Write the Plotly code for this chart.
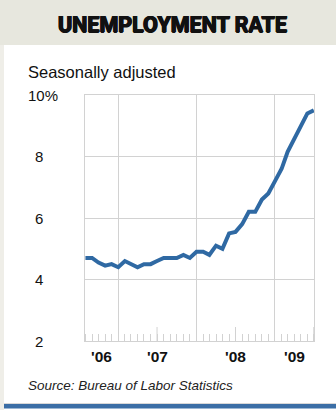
import plotly.graph_objects as go
import pandas as pd

# Monthly unemployment rate, seasonally adjusted (percent)
months = [
    "2006-08", "2006-09", "2006-10", "2006-11", "2006-12",
    "2007-01", "2007-02", "2007-03", "2007-04", "2007-05", "2007-06",
    "2007-07", "2007-08", "2007-09", "2007-10", "2007-11", "2007-12",
    "2008-01", "2008-02", "2008-03", "2008-04", "2008-05", "2008-06",
    "2008-07", "2008-08", "2008-09", "2008-10", "2008-11", "2008-12",
    "2009-01", "2009-02", "2009-03", "2009-04", "2009-05", "2009-06",
    "2009-07",
]
rate = [
    4.7, 4.7, 4.55, 4.45, 4.5,
    4.4, 4.6, 4.5, 4.4, 4.5, 4.5,
    4.6, 4.7, 4.7, 4.7, 4.8, 4.7,
    4.9, 4.9, 4.8, 5.1, 5.0, 5.5,
    5.55, 5.8, 6.2, 6.2, 6.6, 6.8,
    7.2, 7.6, 8.15, 8.55, 8.95, 9.4,
    9.5,
]

year_labels = ["'06", "'07", "'08", "'09"]
years = [2006, 2007, 2008, 2009]
y_ticks = [2, 4, 6, 8, 10]

x_range = ["2006-07-30", "2009-07-02"]

W, H = 336, 410
L, R, T, B = 85, 22, 95, 69
PW, PH = W - L - R, H - T - B

def px(xp):
    return (xp - L) / PW

def py(yp):
    return (H - B - yp) / PH

BLUE = "#2f69a3"
GRID = "#d2d2d2"
BAND = "#e7e7de"
INK = "#111111"

fig = go.Figure()
fig.add_trace(go.Scatter(
    x=[m + "-01" for m in months], y=rate, mode="lines",
    line=dict(color=BLUE, width=4, shape="linear"),
    hoverinfo="skip", showlegend=False,
))

shapes = [
    # header band
    dict(type="rect", xref="paper", yref="paper", x0=px(0), x1=px(W),
         y0=py(45), y1=py(0), fillcolor=BAND, line_width=0, layer="below"),
    # left edge strip
    dict(type="rect", xref="paper", yref="paper", x0=px(0), x1=px(4),
         y0=py(H), y1=py(45), fillcolor="#efeee8", line_width=0, layer="below"),
    # bottom rule
    dict(type="rect", xref="paper", yref="paper", x0=px(4), x1=px(W),
         y0=py(404), y1=py(403), fillcolor="#d8d8d8", line_width=0),
    dict(type="rect", xref="paper", yref="paper", x0=px(4), x1=px(W),
         y0=py(408.5), y1=py(404), fillcolor="#3b6ea6", line_width=0),
]
# taller mid-year ticks
for yr in years:
    shapes.append(dict(type="line", xref="x", yref="paper",
                       x0=f"{yr}-07-01", x1=f"{yr}-07-01", y0=0, y1=14 / PH,
                       line=dict(color=GRID, width=1)))

annotations = [
    dict(text="<b>UNEMPLOYMENT RATE</b>", xref="paper", yref="paper",
         x=px(172), y=py(25), xanchor="center", yanchor="middle", showarrow=False,
         font=dict(family="Roboto", size=21.5, color=INK, weight=900,
                   shadow="0.7px 0 0 #111, -0.7px 0 0 #111, 0 0.5px 0 #111, 0 -0.3px 0 #111")),
    dict(text="Seasonally adjusted", xref="paper", yref="paper",
         x=px(26), y=py(72), xanchor="left", yanchor="middle", showarrow=False,
         font=dict(family="Liberation Sans", size=16.5, color=INK)),
    dict(text="<i>Source: Bureau of Labor Statistics</i>", xref="paper", yref="paper",
         x=px(26), y=py(385), xanchor="left", yanchor="middle", showarrow=False,
         font=dict(family="Liberation Sans", size=13.5, color="#222222")),
]
# y tick labels: numbers right-aligned, the top one carries the percent sign
for v in y_ticks:
    if v == y_ticks[-1]:
        annotations.append(dict(text=f"{v}%", xref="paper", yref="y", x=px(26), y=v,
                                xanchor="left", yanchor="middle", showarrow=False,
                                font=dict(family="Liberation Sans", size=15, color=INK)))
    else:
        annotations.append(dict(text=str(v), xref="paper", yref="y", x=px(45), y=v,
                                xanchor="right", yanchor="middle", showarrow=False,
                                font=dict(family="Liberation Sans", size=15, color=INK)))

# year labels centred on the visible part of each year
r0, r1 = pd.Timestamp(x_range[0]), pd.Timestamp(x_range[1])
for yr, lab in zip(years, year_labels):
    a = max(pd.Timestamp(f"{yr}-01-01"), r0)
    b = min(pd.Timestamp(f"{yr + 1}-01-01"), r1)
    mid = a + (b - a) / 2
    annotations.append(dict(text=f"<b>{lab}</b>", xref="x", yref="paper",
                            x=mid.strftime("%Y-%m-%d %H:%M"), y=py(356),
                            xanchor="center", yanchor="middle", showarrow=False,
                            font=dict(family="Liberation Sans", size=15.5, color=INK)))

fig.update_layout(
    width=W, height=H,
    margin=dict(l=L, r=R, t=T, b=B, pad=0),
    paper_bgcolor="white", plot_bgcolor="white",
    shapes=shapes, annotations=annotations,
    xaxis=dict(
        type="date", range=x_range,
        tickmode="array", tickvals=[f"{y}-01-01" for y in years[1:]],
        showticklabels=False, ticks="",
        showgrid=True, gridcolor=GRID, gridwidth=1,
        showline=True, linecolor=GRID, linewidth=1, mirror=True,
        zeroline=False,
        minor=dict(ticks="inside", dtick="M1", tick0="2006-01-01",
                   ticklen=7, tickcolor=GRID, tickwidth=1, showgrid=False),
    ),
    yaxis=dict(
        range=[2, 10], tickvals=y_ticks, showticklabels=False, ticks="",
        showgrid=True, gridcolor=GRID, gridwidth=1,
        showline=True, linecolor=GRID, linewidth=1, mirror=True,
        zeroline=False,
    ),
)

fig.write_html("out.html")
